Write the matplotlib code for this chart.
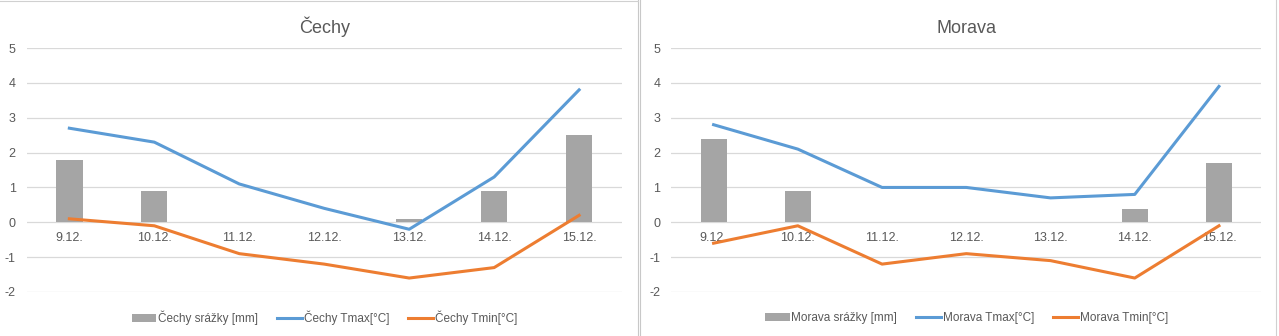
import matplotlib
matplotlib.use('Agg')
import matplotlib.pyplot as plt
import matplotlib.transforms as mtransforms
from matplotlib.lines import Line2D

plt.rcParams['font.family'] = ['Liberation Sans', 'DejaVu Sans']
plt.rcParams['axes.unicode_minus'] = False

# data
days = ['9.12.', '10.12.', '11.12.', '12.12.', '13.12.', '14.12.', '15.12.']

cechy_srazky = [1.8, 0.9, 0, 0, 0.1, 0.9, 2.5]
cechy_tmax = [2.7, 2.3, 1.1, 0.4, -0.2, 1.3, 3.8]
cechy_tmin = [0.1, -0.1, -0.9, -1.2, -1.6, -1.3, 0.2]

morava_srazky = [2.4, 0.9, 0, 0, 0, 0.38, 1.7]
morava_tmax = [2.8, 2.1, 1.0, 1.0, 0.7, 0.8, 3.9]
morava_tmin = [-0.6, -0.1, -1.2, -0.9, -1.1, -1.6, -0.1]

GRAY = '#A5A5A5'
BLUE = '#5B9BD5'
ORANGE = '#ED7D31'
TXT = '#595959'
GRID = '#D9D9D9'


def draw(ax, name, srazky, tmax, tmin):
    x = range(len(days))
    b = ax.bar(x, srazky, width=0.31, color=GRAY, zorder=2,
               label=name + ' srážky [mm]')
    l1, = ax.plot(x, tmax, color=BLUE, lw=2.2, zorder=3, label=name + ' Tmax[°C]')
    l2, = ax.plot(x, tmin, color=ORANGE, lw=2.2, zorder=3, label=name + ' Tmin[°C]')
    ax.set_xlim(-0.5, len(days) - 0.5)
    ax.set_ylim(-2, 5)
    ax.set_yticks(range(-2, 6))
    ax.grid(axis='y', color=GRID, lw=0.9, zorder=0)
    ax.set_xticks([])
    ax.tick_params(axis='y', length=0, labelsize=9, colors=TXT, pad=8)
    for s in ax.spines.values():
        s.set_visible(False)
    # category labels sit just below the zero line
    off = mtransforms.offset_copy(ax.transData, fig=ax.figure, x=0, y=-7, units='points')
    for i, d in enumerate(days):
        ax.text(i, 0, d, transform=off, ha='center', va='top',
                fontsize=9, color=TXT, zorder=1)
    ax.set_title(name, fontsize=13, color=TXT, pad=11)
    ax.legend([b, l1, l2], [b.get_label(), l1.get_label(), l2.get_label()],
              loc='center', bbox_to_anchor=(0.5, -0.107), ncol=3,
              frameon=False, fontsize=8.5, labelcolor=TXT, handlelength=2.1,
              handletextpad=0.15, columnspacing=1.6)


fig = plt.figure(figsize=(12.79, 3.36), dpi=100)
ax1 = fig.add_axes([0.021, 0.131, 0.465, 0.726])
ax2 = fig.add_axes([0.525, 0.131, 0.461, 0.726])
draw(ax1, 'Čechy', cechy_srazky, cechy_tmax, cechy_tmin)
draw(ax2, 'Morava', morava_srazky, morava_tmax, morava_tmin)

# chart borders / separator
for xx in (0.4985, 0.5005):
    fig.add_artist(Line2D([xx, xx], [0, 1], transform=fig.transFigure,
                          color='#C8C8C8', lw=0.8))
fig.add_artist(Line2D([0, 0.4985], [0.998, 0.998], transform=fig.transFigure,
                      color='#D0D0D0', lw=0.8))
fig.add_artist(Line2D([0.998, 0.998], [0, 1], transform=fig.transFigure,
                      color='#D0D0D0', lw=0.8))

fig.savefig('out.png', dpi=100)
